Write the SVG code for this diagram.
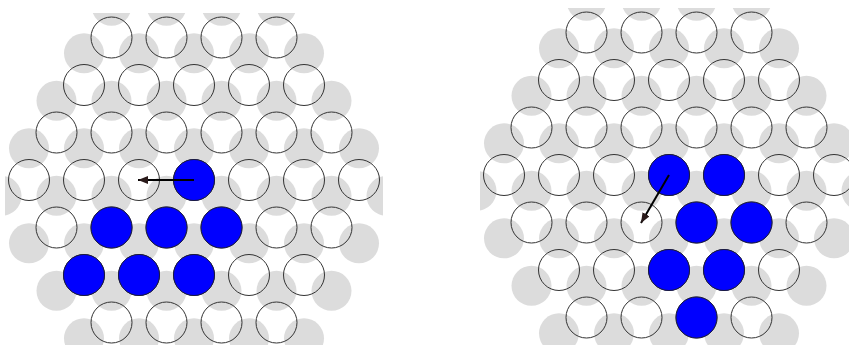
<svg xmlns="http://www.w3.org/2000/svg" xmlns:xlink="http://www.w3.org/1999/xlink" width="849" height="345" viewBox="0 0 849 345">
  <style>
    .g { fill: #dcdcdc; stroke: none; }
    .w { fill: none; stroke: #333333; stroke-width: 1; }
    .b { fill: #0000ff; stroke: #1a1a40; stroke-width: 1; }
    .arrow { stroke: #000000; stroke-width: 2; fill: none; marker-end: url(#head); }
  </style>
  <defs>
    <marker id="head" viewBox="0 0 10 8" refX="10" refY="4" markerWidth="10" markerHeight="8" markerUnits="userSpaceOnUse" orient="auto">
      <path d="M0,0 L10,4 L0,8 Z" fill="#2a1a1a"/>
    </marker>
    <clipPath id="clip">
      <rect x="5" y="13" width="378" height="340"/>
    </clipPath>
    <g id="grayLattice">
      <circle class="g" cx="111.5" cy="5.83" r="20"/><circle class="g" cx="166.5" cy="5.83" r="20"/><circle class="g" cx="221.5" cy="5.83" r="20"/><circle class="g" cx="276.5" cy="5.83" r="20"/>
      <circle class="g" cx="84" cy="53.33" r="20"/><circle class="g" cx="139" cy="53.33" r="20"/><circle class="g" cx="194" cy="53.33" r="20"/><circle class="g" cx="249" cy="53.33" r="20"/><circle class="g" cx="304" cy="53.33" r="20"/>
      <circle class="g" cx="56.5" cy="100.83" r="20"/><circle class="g" cx="111.5" cy="100.83" r="20"/><circle class="g" cx="166.5" cy="100.83" r="20"/><circle class="g" cx="221.5" cy="100.83" r="20"/><circle class="g" cx="276.5" cy="100.83" r="20"/><circle class="g" cx="331.5" cy="100.83" r="20"/>
      <circle class="g" cx="29" cy="148.33" r="20"/><circle class="g" cx="84" cy="148.33" r="20"/><circle class="g" cx="139" cy="148.33" r="20"/><circle class="g" cx="194" cy="148.33" r="20"/><circle class="g" cx="249" cy="148.33" r="20"/><circle class="g" cx="304" cy="148.33" r="20"/><circle class="g" cx="359" cy="148.33" r="20"/>
      <circle class="g" cx="1.5" cy="195.83" r="20"/><circle class="g" cx="56.5" cy="195.83" r="20"/><circle class="g" cx="111.5" cy="195.83" r="20"/><circle class="g" cx="166.5" cy="195.83" r="20"/><circle class="g" cx="221.5" cy="195.83" r="20"/><circle class="g" cx="276.5" cy="195.83" r="20"/><circle class="g" cx="331.5" cy="195.83" r="20"/><circle class="g" cx="386.5" cy="195.83" r="20"/>
      <circle class="g" cx="29" cy="243.33" r="20"/><circle class="g" cx="84" cy="243.33" r="20"/><circle class="g" cx="139" cy="243.33" r="20"/><circle class="g" cx="194" cy="243.33" r="20"/><circle class="g" cx="249" cy="243.33" r="20"/><circle class="g" cx="304" cy="243.33" r="20"/><circle class="g" cx="359" cy="243.33" r="20"/>
      <circle class="g" cx="56.5" cy="290.83" r="20"/><circle class="g" cx="111.5" cy="290.83" r="20"/><circle class="g" cx="166.5" cy="290.83" r="20"/><circle class="g" cx="221.5" cy="290.83" r="20"/><circle class="g" cx="276.5" cy="290.83" r="20"/><circle class="g" cx="331.5" cy="290.83" r="20"/>
      <circle class="g" cx="84" cy="338.33" r="20"/><circle class="g" cx="139" cy="338.33" r="20"/><circle class="g" cx="194" cy="338.33" r="20"/><circle class="g" cx="249" cy="338.33" r="20"/><circle class="g" cx="304" cy="338.33" r="20"/>
    </g>
    <g id="whiteLattice">
      <circle class="w" cx="111.5" cy="37.5" r="20.5"/><circle class="w" cx="166.5" cy="37.5" r="20.5"/><circle class="w" cx="221.5" cy="37.5" r="20.5"/><circle class="w" cx="276.5" cy="37.5" r="20.5"/>
      <circle class="w" cx="84" cy="85" r="20.5"/><circle class="w" cx="139" cy="85" r="20.5"/><circle class="w" cx="194" cy="85" r="20.5"/><circle class="w" cx="249" cy="85" r="20.5"/><circle class="w" cx="304" cy="85" r="20.5"/>
      <circle class="w" cx="56.5" cy="132.5" r="20.5"/><circle class="w" cx="111.5" cy="132.5" r="20.5"/><circle class="w" cx="166.5" cy="132.5" r="20.5"/><circle class="w" cx="221.5" cy="132.5" r="20.5"/><circle class="w" cx="276.5" cy="132.5" r="20.5"/><circle class="w" cx="331.5" cy="132.5" r="20.5"/>
      <circle class="w" cx="29" cy="180" r="20.5"/><circle class="w" cx="84" cy="180" r="20.5"/><circle class="w" cx="139" cy="180" r="20.5"/><circle class="w" cx="194" cy="180" r="20.5"/><circle class="w" cx="249" cy="180" r="20.5"/><circle class="w" cx="304" cy="180" r="20.5"/><circle class="w" cx="359" cy="180" r="20.5"/>
      <circle class="w" cx="56.5" cy="227.5" r="20.5"/><circle class="w" cx="111.5" cy="227.5" r="20.5"/><circle class="w" cx="166.5" cy="227.5" r="20.5"/><circle class="w" cx="221.5" cy="227.5" r="20.5"/><circle class="w" cx="276.5" cy="227.5" r="20.5"/><circle class="w" cx="331.5" cy="227.5" r="20.5"/>
      <circle class="w" cx="84" cy="275" r="20.5"/><circle class="w" cx="139" cy="275" r="20.5"/><circle class="w" cx="194" cy="275" r="20.5"/><circle class="w" cx="249" cy="275" r="20.5"/><circle class="w" cx="304" cy="275" r="20.5"/>
      <circle class="w" cx="111.5" cy="322.5" r="20.5"/><circle class="w" cx="166.5" cy="322.5" r="20.5"/><circle class="w" cx="221.5" cy="322.5" r="20.5"/><circle class="w" cx="276.5" cy="322.5" r="20.5"/>
    </g>
  </defs>

  <g id="left-panel">
    <use xlink:href="#grayLattice" href="#grayLattice" clip-path="url(#clip)"/>
    <use xlink:href="#whiteLattice" href="#whiteLattice"/>
    <g id="left-blue">
      <g id="L1"><circle class="b" cx="194" cy="180" r="20.5"/></g>
      <g id="L2"><circle class="b" cx="111.5" cy="227.5" r="20.5"/></g>
      <g id="L3"><circle class="b" cx="166.5" cy="227.5" r="20.5"/></g>
      <g id="L4"><circle class="b" cx="221.5" cy="227.5" r="20.5"/></g>
      <g id="L5"><circle class="b" cx="84" cy="275" r="20.5"/></g>
      <g id="L6"><circle class="b" cx="139" cy="275" r="20.5"/></g>
      <g id="L7"><circle class="b" cx="194" cy="275" r="20.5"/></g>
    </g>
  </g>

  <g id="right-panel" transform="translate(475,-5)">
    <use xlink:href="#grayLattice" href="#grayLattice" clip-path="url(#clip)"/>
    <use xlink:href="#whiteLattice" href="#whiteLattice"/>
    <g id="right-blue">
      <g id="R1"><circle class="b" cx="194" cy="180" r="20.5"/></g>
      <g id="R2"><circle class="b" cx="249" cy="180" r="20.5"/></g>
      <g id="R3"><circle class="b" cx="221.5" cy="227.5" r="20.5"/></g>
      <g id="R4"><circle class="b" cx="276.5" cy="227.5" r="20.5"/></g>
      <g id="R5"><circle class="b" cx="194" cy="275" r="20.5"/></g>
      <g id="R6"><circle class="b" cx="249" cy="275" r="20.5"/></g>
      <g id="R7"><circle class="b" cx="221.5" cy="322.5" r="20.5"/></g>
    </g>
  </g>

  <g id="connectors">
    <line class="arrow" x1="194" y1="180" x2="138" y2="180"/>
    <line class="arrow" x1="669" y1="175" x2="641" y2="223"/>
  </g>
</svg>
